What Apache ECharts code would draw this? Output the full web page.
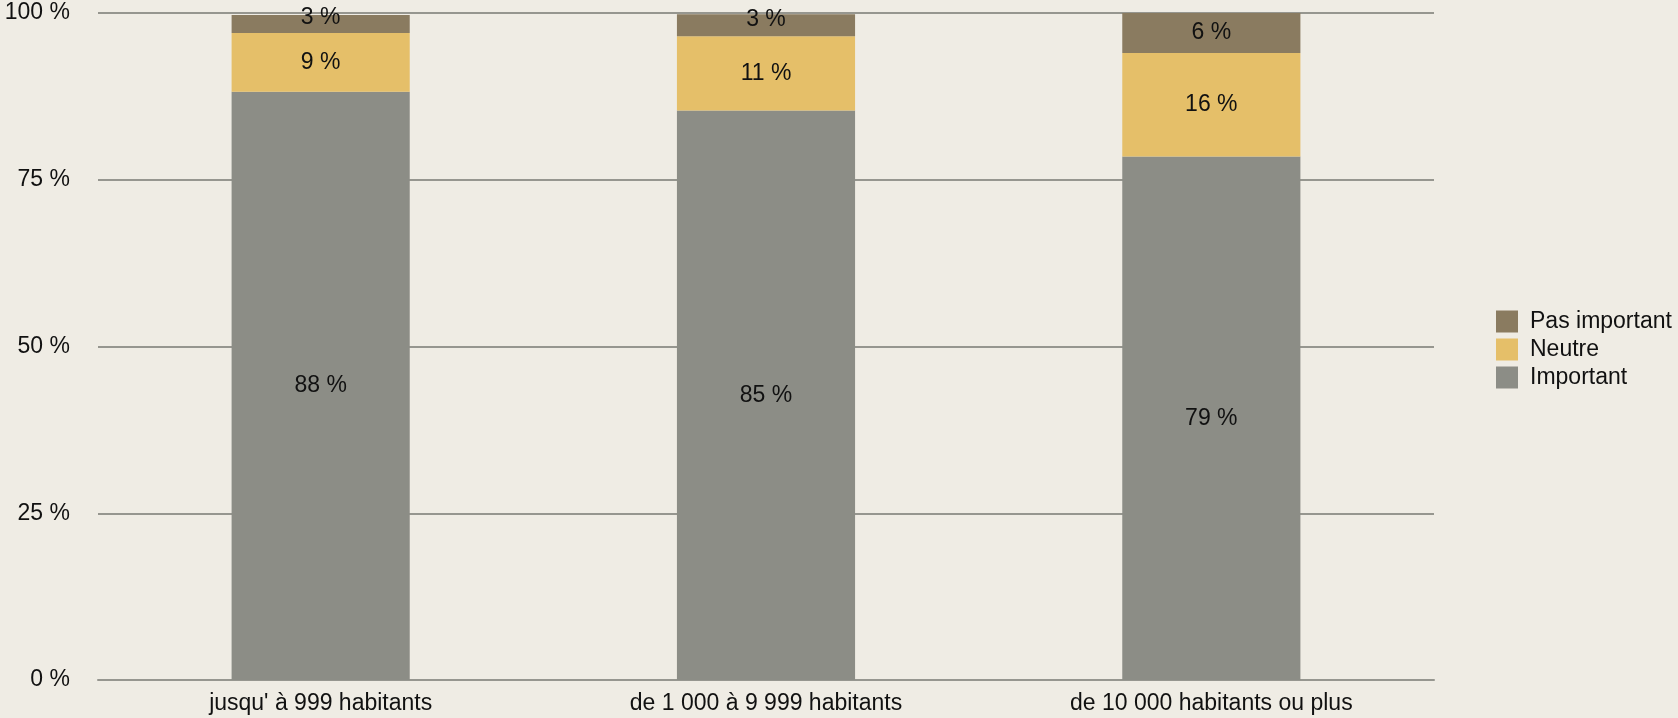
<!DOCTYPE html>
<html>
<head>
<meta charset="utf-8">
<script src="https://cdn.jsdelivr.net/npm/echarts@6/dist/echarts.min.js"></script>
<style>
html, body { margin: 0; padding: 0; background: #efece4; }
#chart-panel { width: 1678px; height: 718px; }
</style>
</head>
<body>
<div id="chart-panel"></div>
<script>
var categories = ['jusqu\' à 999 habitants', 'de 1 000 à 9 999 habitants', 'de 10 000 habitants ou plus'];
var important = [88.2, 85.4, 78.5];
var neutre = [8.8, 11.1, 15.5];
var pasImportant = [2.7, 3.3, 6.0];
var yTicks = [0, 25, 50, 75, 100];

var font = '"Liberation Sans", Arial, sans-serif';

// small segments get their label pushed up a bit, like the original
function items(values) {
    return values.map(function (v) {
        if (v < 4) {
            return { value: v, label: { offset: [0, -6] } };
        }
        return v;
    });
}

function makeSeries(name, values, color) {
    return {
        name: name,
        type: 'bar',
        stack: 'total',
        barWidth: '40%',
        data: items(values),
        itemStyle: { color: color },
        label: {
            show: true,
            position: 'inside',
            color: '#111',
            fontSize: 23,
            fontFamily: font,
            formatter: function (p) { return Math.round(p.value) + ' %'; }
        }
    };
}

var option = {
    backgroundColor: '#efece4',
    animation: false,
    grid: { left: 98, right: 244, top: 13, bottom: 38 },
    legend: {
        orient: 'vertical',
        left: 1491,
        top: 305,
        itemWidth: 22,
        itemHeight: 22,
        itemGap: 5,
        icon: 'rect',
        textStyle: { fontSize: 23, fontFamily: font, color: '#111', padding: [0, 0, 0, 7] },
        data: ['Pas important', 'Neutre', 'Important']
    },
    xAxis: {
        type: 'category',
        data: categories,
        axisLine: { show: true, lineStyle: { color: '#96968f', width: 2 } },
        axisTick: { show: false },
        axisLabel: { fontSize: 23, fontFamily: font, color: '#111', margin: 12 }
    },
    yAxis: {
        type: 'value',
        min: yTicks[0],
        max: yTicks[yTicks.length - 1],
        interval: 25,
        axisLine: { show: false },
        axisTick: { show: false },
        splitLine: { lineStyle: { color: '#96968f', width: 2 } },
        axisLabel: {
            fontSize: 23, fontFamily: font, color: '#111', margin: 28,
            formatter: function (v) { return v + ' %'; }
        }
    },
    series: [
        makeSeries('Important', important, '#8c8d86'),
        makeSeries('Neutre', neutre, '#e5bf69'),
        makeSeries('Pas important', pasImportant, '#8a7b60')
    ]
};

var myChart = echarts.init(document.getElementById('chart-panel'));
myChart.setOption(option);
</script>
</body>
</html>
